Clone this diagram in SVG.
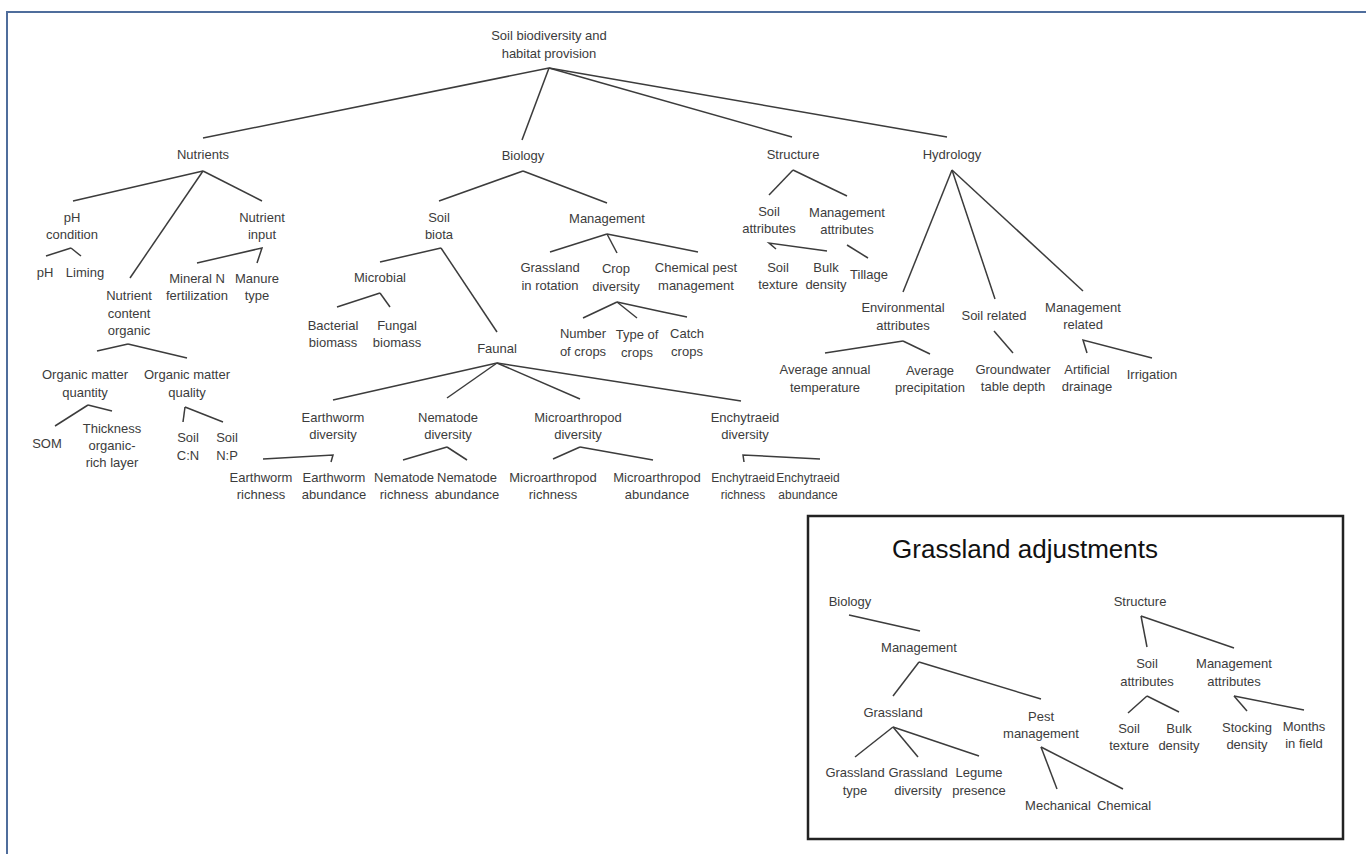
<svg xmlns="http://www.w3.org/2000/svg" width="1366" height="854" viewBox="0 0 1366 854">
<style>
.t{font-family:"Liberation Sans",Arial,sans-serif;font-size:13px;fill:#3c3c3c;text-anchor:middle}
.s{font-size:12px}
.c line,.c polyline{stroke:#3c3c3c;stroke-width:1.5;fill:none}
.title{font-family:"Liberation Sans",Arial,sans-serif;font-size:26px;fill:#111;text-anchor:middle}
</style>
<rect x="0" y="0" width="1366" height="854" fill="#fff"/>
<g id="frame" fill="none" stroke="#4f6d9c" stroke-width="2">
<polyline points="7,854 7,12 1366,12"/>
</g>
<g class="c" id="connectors">
<line x1="549" y1="68" x2="203" y2="138"/>
<line x1="549" y1="68" x2="522" y2="140"/>
<line x1="549" y1="68" x2="792" y2="137"/>
<line x1="549" y1="68" x2="947" y2="137"/>
<line x1="203" y1="171" x2="73" y2="201"/>
<line x1="203" y1="171" x2="130" y2="278"/>
<line x1="203" y1="171" x2="262" y2="201"/>
<line x1="71" y1="248" x2="46" y2="256"/>
<line x1="71" y1="248" x2="81" y2="256"/>
<polyline points="197,263 262,248 257,263"/>
<line x1="128" y1="344" x2="97" y2="351"/>
<line x1="128" y1="344" x2="187" y2="358"/>
<line x1="88" y1="405" x2="55" y2="426"/>
<line x1="88" y1="405" x2="112" y2="411"/>
<line x1="185" y1="407" x2="183" y2="422"/>
<line x1="185" y1="407" x2="223" y2="422"/>
<line x1="523" y1="171" x2="439" y2="201"/>
<line x1="523" y1="171" x2="607" y2="203"/>
<line x1="441" y1="248" x2="380" y2="262"/>
<line x1="441" y1="248" x2="497" y2="332"/>
<line x1="380" y1="293" x2="337" y2="307"/>
<line x1="380" y1="293" x2="390" y2="307"/>
<line x1="607" y1="234" x2="550" y2="252"/>
<line x1="607" y1="234" x2="617" y2="253"/>
<polyline points="607,234 663,245 698,252"/>
<line x1="617" y1="302" x2="583" y2="318"/>
<line x1="617" y1="302" x2="637" y2="318"/>
<polyline points="617,302 663,312 687,317"/>
<line x1="497" y1="363" x2="333" y2="400"/>
<line x1="497" y1="363" x2="447" y2="398"/>
<line x1="497" y1="363" x2="580" y2="399"/>
<line x1="497" y1="363" x2="741" y2="401"/>
<polyline points="263,459 333,455 331,462"/>
<line x1="447" y1="447" x2="403" y2="460"/>
<line x1="447" y1="447" x2="467" y2="460"/>
<line x1="580" y1="447" x2="553" y2="459"/>
<line x1="580" y1="447" x2="653" y2="460"/>
<polyline points="744,462 743,455 820,459"/>
<line x1="793" y1="170" x2="769" y2="195"/>
<line x1="793" y1="170" x2="847" y2="196"/>
<polyline points="827,251 769,243 776,249"/>
<line x1="847" y1="245" x2="868" y2="258"/>
<line x1="952" y1="170" x2="903" y2="292"/>
<line x1="952" y1="170" x2="995" y2="299"/>
<line x1="952" y1="170" x2="1083" y2="291"/>
<line x1="903" y1="341" x2="825" y2="353"/>
<line x1="903" y1="341" x2="930" y2="354"/>
<line x1="994" y1="331" x2="1013" y2="353"/>
<polyline points="1087,353 1083,340 1152,358"/>
<line x1="849" y1="615" x2="920" y2="631"/>
<line x1="919" y1="662" x2="893" y2="696"/>
<line x1="919" y1="662" x2="1041" y2="699"/>
<line x1="893" y1="727" x2="855" y2="757"/>
<line x1="893" y1="727" x2="918" y2="757"/>
<line x1="893" y1="727" x2="979" y2="756"/>
<line x1="1041" y1="747" x2="1057" y2="789"/>
<line x1="1041" y1="747" x2="1123" y2="789"/>
<line x1="1141" y1="616" x2="1147" y2="647"/>
<line x1="1141" y1="616" x2="1234" y2="648"/>
<line x1="1147" y1="696" x2="1128" y2="713"/>
<line x1="1147" y1="696" x2="1179" y2="712"/>
<line x1="1234" y1="696" x2="1247" y2="711"/>
<line x1="1234" y1="696" x2="1304" y2="710"/>
</g>
<g id="n-root"><text class="t" x="549" y="40">Soil biodiversity and<tspan x="549" dy="18">habitat provision</tspan></text></g>
<g id="n-nutrients"><text class="t" x="203" y="159">Nutrients</text></g>
<g id="n-biology"><text class="t" x="523" y="160">Biology</text></g>
<g id="n-structure"><text class="t" x="793" y="159">Structure</text></g>
<g id="n-hydrology"><text class="t" x="952" y="159">Hydrology</text></g>
<g id="n-ph-condition"><text class="t" x="72" y="222">pH<tspan x="72" dy="17">condition</tspan></text></g>
<g id="n-nutrient-input"><text class="t" x="262" y="222">Nutrient<tspan x="262" dy="17">input</tspan></text></g>
<g id="n-ph"><text class="t" x="45" y="277">pH</text></g>
<g id="n-liming"><text class="t" x="85" y="277">Liming</text></g>
<g id="n-mineral-n"><text class="t" x="197" y="283">Mineral N<tspan x="197" dy="17">fertilization</tspan></text></g>
<g id="n-manure"><text class="t" x="257" y="283">Manure<tspan x="257" dy="17">type</tspan></text></g>
<g id="n-nco"><text class="t" x="129" y="300">Nutrient<tspan x="129" dy="17.5">content</tspan><tspan x="129" dy="17.5">organic</tspan></text></g>
<g id="n-om-quantity"><text class="t" x="85" y="379">Organic matter<tspan x="85" dy="18">quantity</tspan></text></g>
<g id="n-om-quality"><text class="t" x="187" y="379">Organic matter<tspan x="187" dy="18">quality</tspan></text></g>
<g id="n-som"><text class="t" x="47" y="448">SOM</text></g>
<g id="n-thickness"><text class="t" x="112" y="433">Thickness<tspan x="112" dy="17">organic-</tspan><tspan x="112" dy="17">rich layer</tspan></text></g>
<g id="n-soil-cn"><text class="t" x="188" y="442">Soil<tspan x="188" dy="18">C:N</tspan></text></g>
<g id="n-soil-np"><text class="t" x="227" y="442">Soil<tspan x="227" dy="18">N:P</tspan></text></g>
<g id="n-soil-biota"><text class="t" x="439" y="222">Soil<tspan x="439" dy="16.5">biota</tspan></text></g>
<g id="n-microbial"><text class="t" x="380" y="282">Microbial</text></g>
<g id="n-bacterial"><text class="t" x="333" y="330">Bacterial<tspan x="333" dy="17">biomass</tspan></text></g>
<g id="n-fungal"><text class="t" x="397" y="330">Fungal<tspan x="397" dy="17">biomass</tspan></text></g>
<g id="n-faunal"><text class="t" x="497" y="353">Faunal</text></g>
<g id="n-management"><text class="t" x="607" y="223">Management</text></g>
<g id="n-grassland-rotation"><text class="t" x="550" y="272">Grassland<tspan x="550" dy="18">in rotation</tspan></text></g>
<g id="n-crop-diversity"><text class="t" x="616" y="273">Crop<tspan x="616" dy="18">diversity</tspan></text></g>
<g id="n-chemical-pest"><text class="t" x="696" y="272">Chemical pest<tspan x="696" dy="18">management</tspan></text></g>
<g id="n-number-crops"><text class="t" x="583" y="338">Number<tspan x="583" dy="18">of crops</tspan></text></g>
<g id="n-type-crops"><text class="t" x="637" y="339">Type of<tspan x="637" dy="18">crops</tspan></text></g>
<g id="n-catch-crops"><text class="t" x="687" y="338">Catch<tspan x="687" dy="18">crops</tspan></text></g>
<g id="n-earthworm-div"><text class="t" x="333" y="422">Earthworm<tspan x="333" dy="16.5">diversity</tspan></text></g>
<g id="n-nematode-div"><text class="t" x="448" y="422">Nematode<tspan x="448" dy="16.5">diversity</tspan></text></g>
<g id="n-micro-div"><text class="t" x="578" y="422">Microarthropod<tspan x="578" dy="16.5">diversity</tspan></text></g>
<g id="n-enchy-div"><text class="t" x="745" y="422">Enchytraeid<tspan x="745" dy="16.5">diversity</tspan></text></g>
<g id="n-ew-rich"><text class="t" x="261" y="482">Earthworm<tspan x="261" dy="17">richness</tspan></text></g>
<g id="n-ew-abun"><text class="t" x="334" y="482">Earthworm<tspan x="334" dy="17">abundance</tspan></text></g>
<g id="n-nem-rich"><text class="t" x="404" y="482">Nematode<tspan x="404" dy="17">richness</tspan></text></g>
<g id="n-nem-abun"><text class="t" x="467" y="482">Nematode<tspan x="467" dy="17">abundance</tspan></text></g>
<g id="n-mic-rich"><text class="t" x="553" y="482">Microarthropod<tspan x="553" dy="17">richness</tspan></text></g>
<g id="n-mic-abun"><text class="t" x="657" y="482">Microarthropod<tspan x="657" dy="17">abundance</tspan></text></g>
<g id="n-enc-rich"><text class="t s" x="743" y="482">Enchytraeid<tspan x="743" dy="17">richness</tspan></text></g>
<g id="n-enc-abun"><text class="t s" x="808" y="482">Enchytraeid<tspan x="808" dy="17">abundance</tspan></text></g>
<g id="n-soil-attr"><text class="t" x="769" y="216">Soil<tspan x="769" dy="17">attributes</tspan></text></g>
<g id="n-mgmt-attr"><text class="t" x="847" y="217">Management<tspan x="847" dy="17">attributes</tspan></text></g>
<g id="n-soil-texture"><text class="t" x="778" y="272">Soil<tspan x="778" dy="17">texture</tspan></text></g>
<g id="n-bulk-density"><text class="t" x="826" y="272">Bulk<tspan x="826" dy="17">density</tspan></text></g>
<g id="n-tillage"><text class="t" x="869" y="279">Tillage</text></g>
<g id="n-env-attr"><text class="t" x="903" y="312">Environmental<tspan x="903" dy="18">attributes</tspan></text></g>
<g id="n-soil-related"><text class="t" x="994" y="320">Soil related</text></g>
<g id="n-mgmt-related"><text class="t" x="1083" y="312">Management<tspan x="1083" dy="17">related</tspan></text></g>
<g id="n-avg-temp"><text class="t" x="825" y="374">Average annual<tspan x="825" dy="18">temperature</tspan></text></g>
<g id="n-avg-precip"><text class="t" x="930" y="375">Average<tspan x="930" dy="17">precipitation</tspan></text></g>
<g id="n-groundwater"><text class="t" x="1013" y="374">Groundwater<tspan x="1013" dy="17">table depth</tspan></text></g>
<g id="n-drainage"><text class="t" x="1087" y="374">Artificial<tspan x="1087" dy="17">drainage</tspan></text></g>
<g id="n-irrigation"><text class="t" x="1152" y="379">Irrigation</text></g>
<g id="grassland-box">
<rect x="808" y="516" width="535" height="323" fill="none" stroke="#222" stroke-width="2.5"/>
<text class="title" x="1025" y="558">Grassland adjustments</text>
</g>
<g id="g-biology"><text class="t" x="850" y="606">Biology</text></g>
<g id="g-management"><text class="t" x="919" y="652">Management</text></g>
<g id="g-grassland"><text class="t" x="893" y="717">Grassland</text></g>
<g id="g-grassland-type"><text class="t" x="855" y="777">Grassland<tspan x="855" dy="18">type</tspan></text></g>
<g id="g-grassland-div"><text class="t" x="918" y="777">Grassland<tspan x="918" dy="18">diversity</tspan></text></g>
<g id="g-legume"><text class="t" x="979" y="777">Legume<tspan x="979" dy="18">presence</tspan></text></g>
<g id="g-pest"><text class="t" x="1041" y="721">Pest<tspan x="1041" dy="17">management</tspan></text></g>
<g id="g-mechanical"><text class="t" x="1058" y="810">Mechanical</text></g>
<g id="g-chemical"><text class="t" x="1124" y="810">Chemical</text></g>
<g id="g-structure"><text class="t" x="1140" y="606">Structure</text></g>
<g id="g-soil-attr"><text class="t" x="1147" y="668">Soil<tspan x="1147" dy="17.5">attributes</tspan></text></g>
<g id="g-mgmt-attr"><text class="t" x="1234" y="668">Management<tspan x="1234" dy="17.5">attributes</tspan></text></g>
<g id="g-soil-texture"><text class="t" x="1129" y="733">Soil<tspan x="1129" dy="17">texture</tspan></text></g>
<g id="g-bulk"><text class="t" x="1179" y="733">Bulk<tspan x="1179" dy="17">density</tspan></text></g>
<g id="g-stocking"><text class="t" x="1247" y="732">Stocking<tspan x="1247" dy="17">density</tspan></text></g>
<g id="g-months"><text class="t" x="1304" y="731">Months<tspan x="1304" dy="17">in field</tspan></text></g>
</svg>
